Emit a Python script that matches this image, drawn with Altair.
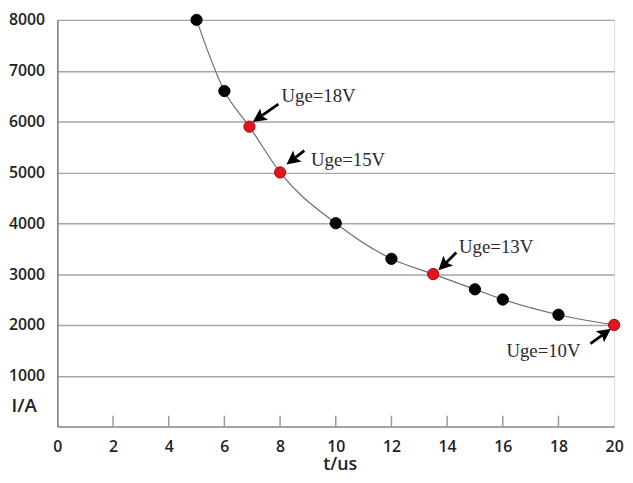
import math
import altair as alt
import pandas as pd

# ---- data ----
t_us = [5, 6, 6.9, 8, 10, 12, 13.5, 15, 16, 18, 20]
current_a = [8000, 6600, 5900, 5000, 4000, 3300, 3000, 2700, 2500, 2200, 2000]
is_marked = [False, False, True, True, False, False, True, False, False, False, True]

note_text = ["Uge=18V", "Uge=15V", "Uge=13V", "Uge=10V"]
note_t = [8.05, 9.11, 14.43, 16.13]
note_i = [6500, 5250, 3540, 1480]
arrow_t0 = [7.94, 8.87, 14.33, 19.15]
arrow_i0 = [6342, 5428, 3424, 1634]
arrow_t1 = [7.02, 8.23, 13.69, 19.89]
arrow_i1 = [5992, 5156, 3074, 1926]

x_ticks = [0, 2, 4, 6, 8, 10, 12, 14, 16, 18, 20]
inner_ticks = [2, 4, 6, 8, 10, 12, 14, 16, 18]
y_ticks = [1000, 2000, 3000, 4000, 5000, 6000, 7000, 8000]

W, H = 564, 412
XMAX, YMAX = 20, 8000
HEAD_LEN = 14

# ---- tables ----
pts = pd.DataFrame({"t": t_us, "i": current_a, "marked": is_marked})

rows = []
for k in range(len(note_text)):
    dx = (arrow_t1[k] - arrow_t0[k]) * W / XMAX
    dy = -(arrow_i1[k] - arrow_i0[k]) * H / YMAX
    length = math.hypot(dx, dy)
    ang = math.degrees(math.atan2(dx, -dy)) % 360
    frac = max(0.0, (length - HEAD_LEN * 0.6) / length)
    rows.append({
        "t0": arrow_t0[k], "i0": arrow_i0[k],
        "t1": arrow_t1[k], "i1": arrow_i1[k],
        "ts": arrow_t0[k] + (arrow_t1[k] - arrow_t0[k]) * frac,
        "is": arrow_i0[k] + (arrow_i1[k] - arrow_i0[k]) * frac,
        "angle": ang,
    })
arrows = pd.DataFrame(rows)
notes = pd.DataFrame({"t": note_t, "i": note_i, "label": note_text})
ticks_df = pd.DataFrame({"t": inner_ticks})

xs = alt.Scale(domain=[0, XMAX], nice=False, zero=False)
ys = alt.Scale(domain=[0, YMAX], nice=False, zero=False)

x_axis = alt.Axis(values=x_ticks, ticks=False, grid=False, title="t/us", format="d",
                  labelFont="Open Sans", labelFontSize=16, labelFontWeight=600,
                  labelColor="#222", labelPadding=12,
                  titleFont="Open Sans", titleFontSize=18, titleFontWeight=600,
                  titleColor="#222", titleX=286, titleY=38, titleBaseline="middle",
                  domainColor="#8a8a8a", domainWidth=1.5, labelFlush=False)
y_axis = alt.Axis(values=y_ticks, ticks=False, grid=True, title="I/A", format="d",
                  gridColor="#a6a6a6", gridWidth=1.5,
                  labelFont="Open Sans", labelFontSize=16, labelFontWeight=600,
                  labelColor="#222", labelPadding=13,
                  titleFont="Open Sans", titleFontSize=19, titleFontWeight=600,
                  titleColor="#222", titleAngle=0, titleX=-34, titleY=391,
                  titleAlign="center", titleBaseline="middle",
                  domainColor="#7a7a7a", domainWidth=1.5)

base = alt.Chart(pts)

grid_layer = base.mark_point(opacity=0).encode(
    x=alt.X("t:Q", scale=xs, axis=x_axis),
    y=alt.Y("i:Q", scale=ys, axis=y_axis),
)

tick_layer = alt.Chart(ticks_df).mark_rule(color="#9a9a9a", strokeWidth=1.5).encode(
    x=alt.X("t:Q", scale=xs),
    y=alt.value(H - 11),
    y2=alt.value(H),
)

curve = base.mark_line(color="#6e6e6e", strokeWidth=1.2, interpolate="monotone").encode(
    x=alt.X("t:Q", scale=xs),
    y=alt.Y("i:Q", scale=ys),
)

dots = base.mark_point(filled=True, size=130, strokeWidth=1, opacity=1).encode(
    x=alt.X("t:Q", scale=xs),
    y=alt.Y("i:Q", scale=ys),
    fill=alt.condition("datum.marked", alt.value("#e3141c"), alt.value("#050505")),
    stroke=alt.condition("datum.marked", alt.value("#9a0d10"), alt.value("#000000")),
)

shafts = alt.Chart(arrows).mark_rule(color="#000", strokeWidth=2.8).encode(
    x=alt.X("t0:Q", scale=xs), y=alt.Y("i0:Q", scale=ys),
    x2="ts:Q", y2="is:Q",
)

heads = alt.Chart(arrows).mark_point(
    shape="M0,0 L-0.5,1 L0,0.8 L0.5,1 Z", filled=True, color="#000",
    size=(2 * HEAD_LEN) ** 2, opacity=1,
).encode(
    x=alt.X("t1:Q", scale=xs), y=alt.Y("i1:Q", scale=ys),
    angle=alt.Angle("angle:Q", scale=None),
)

texts = alt.Chart(notes).mark_text(
    align="left", baseline="middle", font="Liberation Serif", fontSize=19, color="#2a2a2a",
).encode(
    x=alt.X("t:Q", scale=xs), y=alt.Y("i:Q", scale=ys), text="label:N",
)

chart = alt.layer(grid_layer, tick_layer, curve, shafts, heads, dots, texts).properties(
    width=W, height=H,
    autosize=alt.AutoSizeParams(type="none"),
    padding={"left": 50, "top": 9, "right": 11, "bottom": 46},
).configure_view(stroke="#a6a6a6", strokeWidth=2).configure(background="white")

chart.save("out.html", embed_options={"renderer": "svg", "actions": False})
